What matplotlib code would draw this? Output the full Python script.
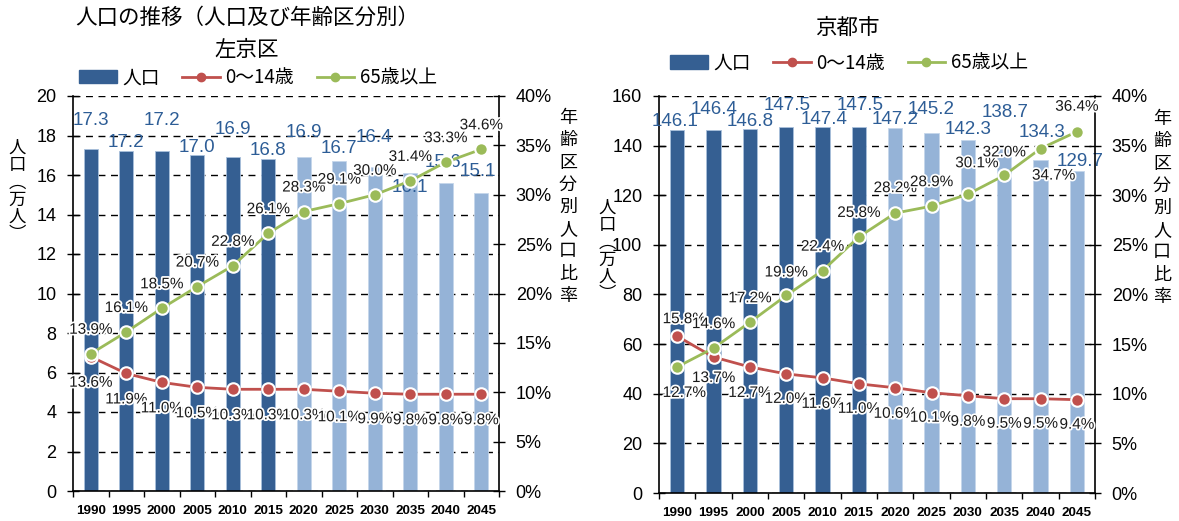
import matplotlib
matplotlib.use("Agg")
import matplotlib.pyplot as plt
from matplotlib.patches import Patch
from matplotlib.lines import Line2D
import matplotlib.patheffects as pe

plt.rcParams['font.family'] = ['Liberation Sans', 'Noto Sans CJK JP', 'DejaVu Sans']

years = ['1990', '1995', '2000', '2005', '2010', '2015', '2020', '2025', '2030', '2035', '2040', '2045']

# 左京区
sakyo_pop = [17.3, 17.2, 17.2, 17.0, 16.9, 16.8, 16.9, 16.7, 16.4, 16.1, 15.6, 15.1]
sakyo_child = [13.6, 11.9, 11.0, 10.5, 10.3, 10.3, 10.3, 10.1, 9.9, 9.8, 9.8, 9.8]
sakyo_old = [13.9, 16.1, 18.5, 20.7, 22.8, 26.1, 28.3, 29.1, 30.0, 31.4, 33.3, 34.6]

# 京都市
kyoto_pop = [146.1, 146.4, 146.8, 147.5, 147.4, 147.5, 147.2, 145.2, 142.3, 138.7, 134.3, 129.7]
kyoto_child = [15.8, 13.7, 12.7, 12.0, 11.6, 11.0, 10.6, 10.1, 9.8, 9.5, 9.5, 9.4]
kyoto_old = [12.7, 14.6, 17.2, 19.9, 22.4, 25.8, 28.2, 28.9, 30.1, 32.0, 34.7, 36.4]

n_actual = 6  # 1990-2015 actual, rest projection

DARK = '#355F92'
LIGHT = '#95B3D7'
RED = '#C0504D'
GREEN = '#9BBB59'
LBLUE = '#2D5D96'

W, H = 1179, 521
fig = plt.figure(figsize=(W / 100, H / 100), dpi=100)

# label offsets in pixels (dx, dy)
sakyo_pop_off = [(0, 29), (0, 9), (0, 31), (0, 8), (0, 28), (0, 9), (0, 25), (0, 13), (-1, 30), (0, -14), (-3, 20), (-3, 21)]
sakyo_old_off = [(0, 24)] * 12
sakyo_child_off = [(0, -26)] * 12
kyoto_pop_off = [(-2, 9), (1, 20), (0, 7), (1, 22), (2, 8), (1, 22), (0, 8), (0, 23), (0, 10), (1, 36), (2, 27), (3, 10)]
kyoto_old_off = [(7, -26), (0, 24), (0, 24), (0, 23), (0, 24), (0, 24), (0, 25), (0, 24), (9, 31), (0, 23), (13, -27), (0, 25)]
kyoto_child_off = [(7, 17), (0, -21), (0, -26), (0, -25), (0, -26), (0, -25), (0, -26), (0, -25), (0, -26), (0, -25), (0, -25), (0, -25)]


def make_chart(rect, pop, child, old, ymax, ystep, pop_off, child_off, old_off):
    ax = fig.add_axes(rect)
    ax2 = ax.twinx()
    x = list(range(len(years)))
    colors = [DARK if i < n_actual else LIGHT for i in x]
    edges = ['#A9C0DC' if i < n_actual else '#C5D6EA' for i in x]
    ax.bar(x, pop, width=0.4, color=colors, edgecolor=edges, linewidth=0.6, zorder=2)
    ax.set_xlim(-0.5, len(years) - 0.5)
    ax.set_ylim(0, ymax)
    ax.set_yticks([i * ystep for i in range(int(ymax / ystep) + 1)])
    ax.yaxis.grid(True, linestyle=(0, (5, 4)), color='black', linewidth=1.0, zorder=0)
    ax.set_axisbelow(True)
    ax.set_xticks([i - 0.5 for i in range(len(years) + 1)])
    ax.set_xticklabels([])
    ax.set_xticks(x, minor=True)
    ax.set_xticklabels(years, minor=True, fontsize=9.7, fontweight='bold')
    ax.tick_params(axis='x', which='major', direction='out', length=4, width=1)
    ax.tick_params(axis='x', which='minor', length=0, pad=10)
    ax.tick_params(axis='y', direction='inout', length=8, width=1, labelsize=13, pad=8)
    for s in ['top', 'right']:
        ax.spines[s].set_visible(False)
    for s in ['left', 'bottom']:
        ax.spines[s].set_linewidth(1.2)

    ax2.set_ylim(0, 40)
    ax2.set_yticks(range(0, 41, 5))
    ax2.set_yticklabels([f'{v}%' for v in range(0, 41, 5)])
    ax2.tick_params(axis='y', direction='inout', length=8, width=1, labelsize=13, pad=8)
    for s in ['top', 'left', 'bottom']:
        ax2.spines[s].set_visible(False)
    ax2.spines['right'].set_linewidth(1.2)

    ax2.plot(x, child, color=RED, linewidth=2, marker='o', markersize=9,
             markerfacecolor=RED, markeredgecolor='white', markeredgewidth=1.5, zorder=3)
    ax2.plot(x, old, color=GREEN, linewidth=2, marker='o', markersize=9,
             markerfacecolor=GREEN, markeredgecolor='white', markeredgewidth=1.5, zorder=3)

    for i, v in enumerate(pop):
        ax.annotate(f'{v:.1f}', (i, v), xytext=pop_off[i], textcoords='offset pixels',
                    ha='center', va='center', fontsize=13.5, color=LBLUE, zorder=5)
    stroke = [pe.withStroke(linewidth=2.5, foreground='white')]
    for i, v in enumerate(child):
        ax2.annotate(f'{v:.1f}%', (i, v), xytext=child_off[i], textcoords='offset pixels',
                     ha='center', va='center', fontsize=11, color='#1a1a1a',
                     path_effects=stroke, zorder=6)
    for i, v in enumerate(old):
        ax2.annotate(f'{v:.1f}%', (i, v), xytext=old_off[i], textcoords='offset pixels',
                     ha='center', va='center', fontsize=11, color='#1a1a1a',
                     path_effects=stroke, zorder=6)
    return ax, ax2


def px_rect(l, t, r, b):
    return [l / W, 1 - b / H, (r - l) / W, (b - t) / H]


make_chart(px_rect(73, 96, 499, 491), sakyo_pop, sakyo_child, sakyo_old, 20, 2,
           sakyo_pop_off, sakyo_child_off, sakyo_old_off)
make_chart(px_rect(659, 96, 1095, 493), kyoto_pop, kyoto_child, kyoto_old, 160, 20,
           kyoto_pop_off, kyoto_child_off, kyoto_old_off)

JP = ['Noto Sans CJK JP', 'DejaVu Sans']

# titles
fig.text(247 / W, 1 - 18 / H, '人口の推移（人口及び年齢区分別）', ha='center', va='center',
         fontsize=15.5, family=JP, fontweight='normal')
fig.text(247 / W, 1 - 50 / H, '左京区', ha='center', va='center',
         fontsize=15.5, family=JP, fontweight='normal')
fig.text(847 / W, 1 - 28 / H, '京都市', ha='center', va='center',
         fontsize=15.5, family=JP, fontweight='normal')

# legends
handles = [Patch(facecolor=DARK, edgecolor=DARK),
           Line2D([0], [0], color=RED, lw=2, marker='o', markersize=6, markeredgecolor=RED),
           Line2D([0], [0], color=GREEN, lw=2, marker='o', markersize=6, markeredgecolor=GREEN)]
labels = ['人口', '0～14歳', '65歳以上']
for cx, cy in [(258, 78), (849, 63)]:
    fig.legend(handles, labels, loc='center', bbox_to_anchor=(cx / W, 1 - cy / H), ncol=3,
               frameon=False, prop={'family': JP, 'size': 13.5}, handlelength=2.0,
               handleheight=0.7, columnspacing=1.2, handletextpad=0.3, borderpad=0)

# vertical axis titles
pop_label = '\n'.join(['人', '口', '︵', '万', '人', '︶'])
ratio_label = '\n'.join(list('年齢区分別人口比率'))
fig.text(17 / W, 1 - 191 / H, pop_label, ha='center', va='center', fontsize=12.5,
         family=JP, linespacing=0.95)
fig.text(607 / W, 1 - 251 / H, pop_label, ha='center', va='center', fontsize=12.5,
         family=JP, linespacing=0.95)
fig.text(568 / W, 1 - 207 / H, ratio_label, ha='center', va='center', fontsize=13,
         family=JP, linespacing=1.3)
fig.text(1162 / W, 1 - 208 / H, ratio_label, ha='center', va='center', fontsize=13,
         family=JP, linespacing=1.3)

fig.savefig('out.png', dpi=100)
